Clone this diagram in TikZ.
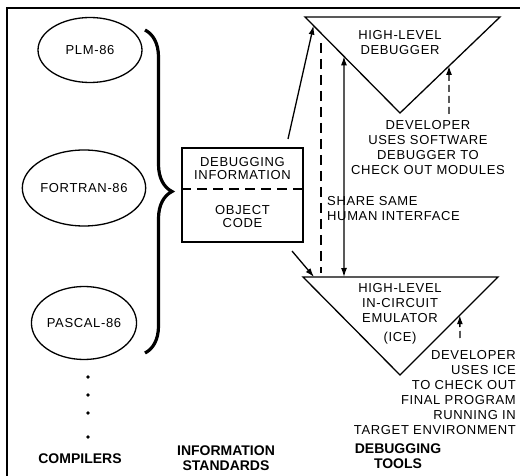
\documentclass[tikz,border=0pt]{standalone}
\usepackage{fontspec}
\setmainfont{Liberation Sans}
\newfontfamily\labelfont[LetterSpace=5]{Liberation Sans}
\usetikzlibrary{arrows.meta,positioning,shapes.geometric,calc,decorations.pathreplacing}

\begin{document}
\begin{tikzpicture}[
    x=1pt, y=-1pt,
    lang/.style={ellipse, draw, line width=1.3pt, inner sep=0pt, font=\labelfont\fontsize{13}{15}\selectfont},
    caption/.style={align=center, font=\fontsize{14}{15}\selectfont\bfseries},
    note/.style={align=center, inner sep=0pt, font=\labelfont\fontsize{13}{15}\selectfont},
    tri/.style={line width=1.3pt, line join=miter},
    arrow/.style={-{Latex[length=9pt, width=6pt]}, line width=1.3pt},
    dasharrow/.style={arrow, dash pattern=on 7pt off 4pt},
    twoway/.style={{Latex[length=9pt, width=6pt]}-{Latex[length=9pt, width=6pt]}, line width=1.3pt}
  ]
    \useasboundingbox (0,0) rectangle (520,476);
    \draw[line width=1.3pt] (520,8) -- (7,8) -- (7,476);

    % compilers
    \node[lang, minimum width=104pt, minimum height=65pt] (plm) at (90,50) {PLM-86};
    \node[lang, minimum width=98pt, minimum height=76pt] (fortran) at (84,188) {FORTRAN-86};
    \node[lang, minimum width=98pt, minimum height=73pt] (pascal) at (84,323) {PASCAL-86};
    \foreach \y in {377,395,413,437}
      \fill (88,\y) circle (1.8pt);
    \draw[line width=3.2pt, decorate, decoration={brace, amplitude=27pt}] (145,30) -- (145,353);
    \node[caption] (compilers) at (80,459) {COMPILERS};

    % information standards
    \node[draw, line width=1.3pt, minimum width=121pt, minimum height=94pt] (info) at (242.5,195) {};
    \node[note] (debuginfo) at (242.5,168.5) {DEBUGGING\\[-1.5pt]INFORMATION};
    \node[note] (objcode) at (242.5,216.5) {OBJECT\\[-1.5pt]CODE};
    \draw[line width=1.3pt, dash pattern=on 10pt off 6pt] ($(info.west)+(0,-6)$) -- ($(info.east)+(0,-6)$);
    \node[caption] (standards) at (226,458) {INFORMATION\\STANDARDS};

    % debugging tools
    \coordinate (dbgL) at (305,17);
    \coordinate (dbgR) at (500,17);
    \coordinate (dbgB) at (400,113);
    \draw[tri] (dbgL) -- (dbgR) -- (dbgB) -- cycle;
    \node[note] (debugger) at (400,43) {HIGH-LEVEL\\DEBUGGER};

    \coordinate (iceL) at (303,277);
    \coordinate (iceR) at (498,277);
    \coordinate (iceB) at (400,375);
    \draw[tri] (iceL) -- (iceR) -- (iceB) -- cycle;
    \node[note] (ice) at (400,314) {HIGH-LEVEL\\IN-CIRCUIT\\EMULATOR\\[4pt](ICE)};

    \node[note] (swdev) at (428,148) {DEVELOPER\\USES SOFTWARE\\DEBUGGER TO\\CHECK OUT MODULES};
    \node[note, align=right, anchor=east] (icedev) at (516,392.5) {DEVELOPER\\USES ICE\\TO CHECK OUT\\FINAL PROGRAM\\RUNNING IN\\TARGET ENVIRONMENT};
    \node[note, align=left, anchor=west] (share) at (327,209) {SHARE SAME\\HUMAN INTERFACE};
    \node[caption] (tools) at (398,456) {DEBUGGING\\TOOLS};

    % connectors
    \coordinate (infoup) at (288,139);
    \coordinate (infodown) at (292,251);
    \coordinate (dbgin) at ($(dbgL)!0.09!(dbgB)$);
    \coordinate (icein) at (314,277);
    \coordinate (dbgshare) at ($(dbgL)!0.41!(dbgB)$);
    \coordinate (iceshare) at (344,277);
    \coordinate (dbguse) at ($(dbgR)!0.51!(dbgB)$);
    \coordinate (iceuse) at ($(iceR)!0.39!(iceB)$);
    \draw[arrow] (infoup) -- (dbgin);
    \draw[arrow] (infodown) -- (icein);
    \draw[line width=1.3pt, dash pattern=on 10pt off 6pt] (321,43) -- (321,273);
    \draw[twoway] (dbgshare) -- (iceshare);
    \draw[dasharrow] (449,114) -- (dbguse);
    \draw[dasharrow] (460,338) -- (iceuse);
  \end{tikzpicture}
\end{document}
